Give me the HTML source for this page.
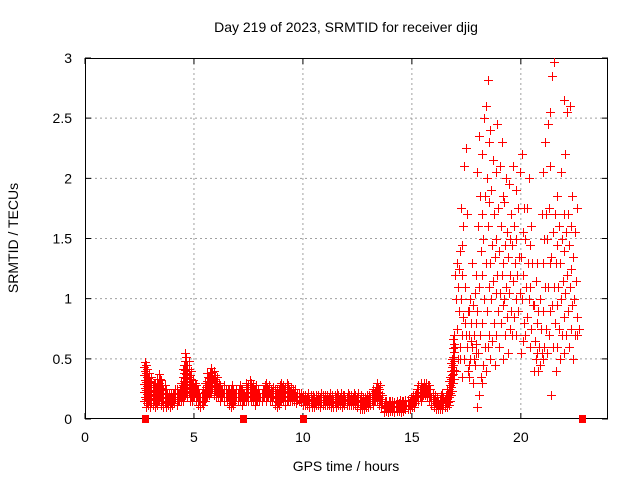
<!DOCTYPE html>
<html><head><meta charset="utf-8"><style>
body{margin:0;background:#fff}
svg{display:block;font-family:"Liberation Sans",sans-serif}
</style></head><body>
<svg id="chart" width="640" height="480" viewBox="0 0 640 480">
<rect width="640" height="480" fill="#fff"/>
<text x="346" y="32" font-size="14" text-anchor="middle">Day 219 of 2023, SRMTID for receiver djig</text>
<g id="grid"></g>
<g id="axes"></g>
<g id="marks" fill="#ff0000"></g>
<text x="346" y="471" font-size="14" text-anchor="middle">GPS time / hours</text>
<text x="18" y="238" font-size="14" text-anchor="middle" transform="rotate(-90 18 238)">SRMTID / TECUs</text>
</svg>
<script>
const xTicks=[0,5,10,15,20];
const yTicks=[0,0.5,1,1.5,2,2.5,3];
const yTickLabels=["0","0.5","1","1.5","2","2.5","3"];
const quietStart=2.7;
const quietLow=[.15,.1,.12,.1,.12,.1,.12,.15,.12,.1,.1,.12,.1,.12,.13,.12,.15,.15,.15,.2,.18,.15,.15,.18,.15,.12,.1,.12,.15,.18,.2,.22,.2,.18,.18,.15,.18,.15,.15,.12,.1,.12,.15,.15,.15,.12,.15,.15,.15,.15,.15,.12,.15,.15,.15,.18,.15,.18,.15,.15,.12,.1,.12,.15,.15,.12,.15,.15,.15,.15,.13,.15,.14,.12,.12,.12,.1,.1,.1,.12,.12,.1,.12,.12,.12,.12,.1,.1,.1,.12,.12,.1,.12,.12,.12,.12,.12,.12,.1,.08,.08,.08,.1,.1,.12,.12,.15,.15,.12,.1,.06,.07,.06,.07,.07,.06,.07,.07,.06,.07,.08,.08,.08,.1,.1,.15,.15,.15,.2,.2,.18,.15,.12,.1,.08,.08,.08,.08,.1,.1,.12,.2,.3];
const quietHigh=[.47,.45,.38,.35,.3,.3,.33,.37,.32,.28,.25,.22,.22,.22,.25,.25,.25,.3,.45,.55,.48,.4,.32,.3,.28,.25,.22,.25,.3,.38,.38,.42,.4,.35,.3,.28,.25,.28,.25,.25,.28,.25,.25,.25,.28,.25,.22,.3,.32,.3,.28,.28,.25,.22,.25,.28,.3,.28,.25,.27,.25,.25,.28,.3,.28,.3,.28,.27,.25,.25,.22,.22,.22,.2,.2,.22,.2,.2,.18,.2,.2,.22,.2,.2,.2,.22,.2,.2,.22,.2,.22,.2,.2,.22,.2,.2,.22,.2,.22,.2,.18,.18,.2,.2,.22,.25,.27,.3,.28,.2,.15,.15,.15,.15,.15,.14,.15,.16,.15,.15,.16,.16,.18,.2,.2,.25,.28,.3,.3,.3,.28,.28,.22,.2,.18,.15,.2,.22,.2,.25,.35,.5,.7];
const stormHours=[17.0,17.2,17.4,17.6,17.8,18.0,18.2,18.4,18.6,18.8,19.0,19.2,19.4,19.6,19.8,20.0,20.2,20.4,20.6,20.8,21.0,21.2,21.4,21.6,21.8,22.0,22.2,22.4,22.6];
const stormValues=[
[0.6,0.75,0.9,1.0,1.1,1.2,1.3,1.25,0.4,0.5],
[0.5,0.7,0.85,1.0,1.2,1.4,1.45,1.6,1.75,0.35,0.6],
[0.5,0.7,0.9,1.1,1.7,2.1,2.25,0.4,0.8,0.6],
[0.35,0.5,0.6,0.7,0.8,0.9,1.0,1.3,0.45,0.65],
[0.3,0.45,0.55,0.7,0.8,0.95,1.05,1.2,0.5,0.62],
[0.1,0.2,0.35,0.55,0.7,0.9,1.1,1.4,1.6,1.85,2.05,2.35],
[0.3,0.45,0.6,0.8,1.0,1.2,1.5,1.85,2.2,2.5,1.7],
[0.4,0.6,0.7,0.9,1.1,1.3,1.6,1.8,2.0,2.3,2.6,2.82],
[0.5,0.65,0.8,1.0,1.15,1.3,1.45,1.7,1.9,2.15,2.4],
[0.45,0.7,0.9,1.05,1.2,1.35,1.5,1.75,2.05,2.45],
[0.6,0.8,0.95,1.05,1.2,1.4,1.6,1.85,2.1,2.3],
[0.5,0.7,0.85,1.0,1.1,1.3,1.45,1.55,1.8,2.0],
[0.55,0.75,0.9,1.05,1.2,1.35,1.5,1.7,1.95],
[0.7,0.85,1.0,1.15,1.3,1.45,1.6,1.9,2.1],
[0.7,0.9,1.05,1.2,1.35,1.5,1.75,2.05],
[0.55,0.65,0.8,1.0,1.2,1.35,1.55,1.75,2.2],
[0.7,0.85,1.0,1.1,1.3,1.5,1.75,2.0],
[0.6,0.75,0.95,1.1,1.3,1.45,1.6],
[0.4,0.5,0.55,0.65,0.8,0.95,1.15,1.3],
[0.4,0.45,0.55,0.6,0.75,0.9,1.0,1.7],
[0.5,0.6,0.75,0.9,1.1,1.3,1.5,1.7,2.05,2.3],
[0.55,0.7,0.9,1.1,1.3,1.5,1.75,2.1,2.45,2.55],
[0.2,0.6,0.8,0.95,1.1,1.35,1.55,1.7,2.85,2.97],
[0.4,0.6,0.75,0.95,1.1,1.3,1.45,1.6,1.85],
[0.5,0.7,0.85,1.0,1.15,1.3,1.5,1.7,2.05],
[0.55,0.7,0.9,1.05,1.2,1.4,1.55,1.7,2.2,2.55,2.65],
[0.6,0.75,0.95,1.1,1.25,1.45,1.6,1.85,2.6],
[0.5,0.7,0.85,1.0,1.15,1.35,1.55,1.75],
[0.7,0.75]];
const gapHours=[2.75,7.25,10.0,22.8];

const X0=85,X1=608,Y0=419,Y1=58,XMAX=24,YMAX=3;
const xs=h=>X0+(X1-X0)*h/XMAX;
const ys=v=>Y0-(Y0-Y1)*v/YMAX;
const NS="http://www.w3.org/2000/svg";
function mk(tag,attrs,parent){const e=document.createElementNS(NS,tag);for(const k in attrs)e.setAttribute(k,attrs[k]);parent.appendChild(e);return e;}
const grid=document.getElementById('grid'),axes=document.getElementById('axes'),marks=document.getElementById('marks');
xTicks.forEach(t=>{
  if(t>0){const g=mk('line',{x1:xs(t),x2:xs(t),y1:Y1,y2:Y0,stroke:'#a0a0a0','stroke-dasharray':'2,3'},grid);
  
  }
  const tk=mk('path',{d:`M${xs(t)},${Y0}v-6M${xs(t)},${Y1}v6`,stroke:'#000'},axes);
  
  
  const lb=mk('text',{x:xs(t),y:Y0+23,'font-size':14,'text-anchor':'middle'},axes);lb.textContent=t;
  
  
});
yTicks.forEach((t,i)=>{
  if(t>0&&t<YMAX){const g=mk('line',{x1:X0,x2:X1,y1:ys(t),y2:ys(t),stroke:'#a0a0a0','stroke-dasharray':'2,3'},grid);
  
  }
  const tk=mk('path',{d:`M${X0},${ys(t)}h6M${X1},${ys(t)}h-6`,stroke:'#000'},axes);
  
  
  const lb=mk('text',{x:X0-13,y:ys(t)+5,'font-size':14,'text-anchor':'end'},axes);lb.textContent=yTickLabels[i];
  
  
});
const fr=mk('rect',{x:X0+.5,y:Y1+.5,width:X1-X0-1,height:Y0-Y1-1,fill:'none',stroke:'#000'},axes);


const plus=(h,v)=>{
  const x=Math.round(xs(h)),y=Math.round(ys(v));
  const r1=mk('rect',{x:x-4,y:y,width:9,height:1},marks);
  
  
  const r2=mk('rect',{x:x,y:y-4,width:1,height:9},marks);
  
  
};
quietLow.forEach((lo,i)=>{
  const h=quietStart+i*0.1,hi=quietHigh[i];
  const n=Math.max(2,Math.round((hi-lo)/0.035));
  for(let k=0;k<=n;k++){plus(h+(k%2)*0.05,lo+(hi-lo)*k/n);}
});
stormHours.forEach((h,i)=>{stormValues[i].forEach((v,j)=>plus(h+((j*7)%5)*0.04,v));});
gapHours.forEach(h=>{const r=mk('rect',{x:Math.round(xs(h))-3,y:Y0-4,width:7,height:8,fill:'#ff0000'},marks);
  
  });
</script>
</body></html>
